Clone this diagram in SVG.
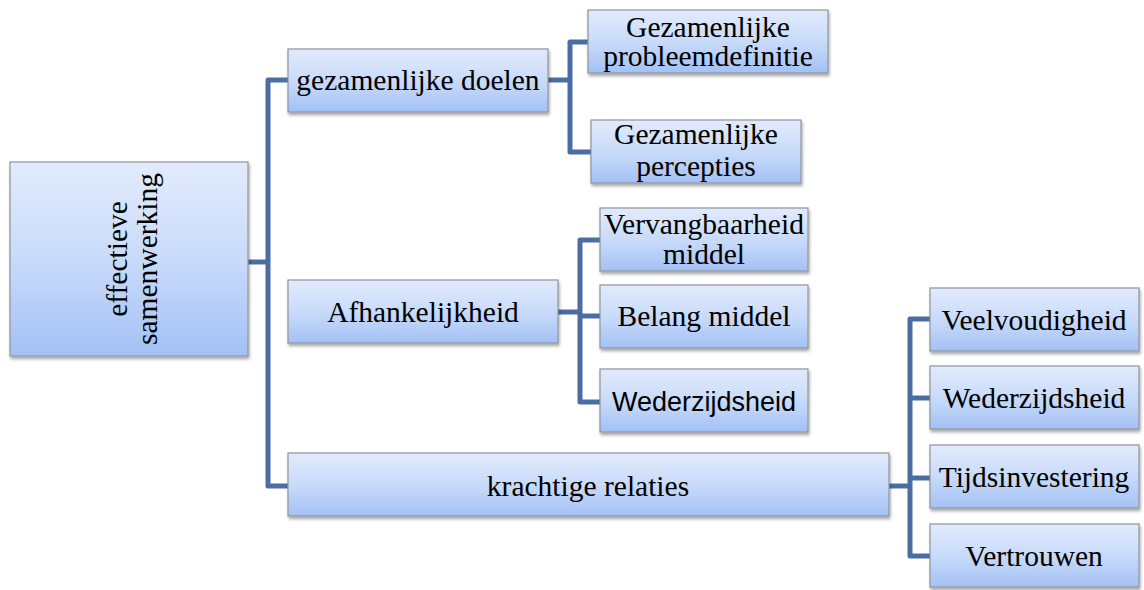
<svg xmlns="http://www.w3.org/2000/svg" width="1144" height="590" viewBox="0 0 1144 590">
<defs>
<linearGradient id="g" x1="0" y1="0" x2="0" y2="1">
<stop offset="0" stop-color="#e2ebfc"/>
<stop offset="0.5" stop-color="#c9dbfa"/>
<stop offset="1" stop-color="#a3c1f5"/>
</linearGradient>
<filter id="sh" x="-10%" y="-10%" width="120%" height="130%">
<feDropShadow dx="1" dy="2.5" stdDeviation="1.5" flood-color="#000" flood-opacity="0.35"/>
</filter>
</defs>
<style>
rect.n{fill:url(#g);stroke:#8f949c;stroke-width:1.2;filter:url(#sh)}
text{font-family:"Liberation Serif","Times New Roman",serif;font-size:29.5px;fill:#000;text-anchor:middle}
text.s{font-family:"Liberation Sans",Arial,sans-serif;font-size:27px}
.c path{fill:none;stroke:#4a6ea3;stroke-width:5;stroke-linejoin:round;stroke-linecap:butt}
</style>
<rect width="1144" height="590" fill="#fff"/>
<g class="c" id="connectors">
<path d="M248 262H268"/>
<path d="M288 80H268V486H288"/>
<path d="M548 80H570"/>
<path d="M588 42H570V152H591"/>
<path d="M558 312H580"/>
<path d="M600 240H580V402H600"/>
<path d="M580 316H600"/>
<path d="M889 486H910"/>
<path d="M930 319H910V556H930"/>
<path d="M910 398H930"/>
<path d="M910 478H930"/>
</g>
<g id="root"><rect class="n" x="10" y="162" width="238" height="194"/>
<text transform="translate(129 259) rotate(-90)"><tspan x="0" y="-2">effectieve</tspan><tspan x="0" y="28">samenwerking</tspan></text></g>
<g id="n1"><rect class="n" x="288" y="49" width="260" height="63"/><text x="418" y="90">gezamenlijke doelen</text></g>
<g id="n2"><rect class="n" x="288" y="280" width="270" height="63"/><text x="423" y="322">Afhankelijkheid</text></g>
<g id="n3"><rect class="n" x="288" y="453" width="601" height="63"/><text x="588" y="496">krachtige relaties</text></g>
<g id="n11"><rect class="n" x="588" y="10" width="240" height="63"/><text x="708" y="37">Gezamenlijke</text><text x="708" y="66">probleemdefinitie</text></g>
<g id="n12"><rect class="n" x="591" y="120" width="210" height="63"/><text x="696" y="144">Gezamenlijke</text><text x="696" y="176">percepties</text></g>
<g id="n21"><rect class="n" x="600" y="208" width="208" height="63"/><text x="704" y="234">Vervangbaarheid</text><text x="704" y="264">middel</text></g>
<g id="n22"><rect class="n" x="600" y="285" width="208" height="63"/><text x="704" y="326">Belang middel</text></g>
<g id="n23"><rect class="n" x="600" y="369" width="208" height="63"/><text class="s" x="704" y="411">Wederzijdsheid</text></g>
<g id="n31"><rect class="n" x="930" y="288" width="209" height="63"/><text x="1034" y="330">Veelvoudigheid</text></g>
<g id="n32"><rect class="n" x="930" y="366" width="209" height="63"/><text x="1034" y="408">Wederzijdsheid</text></g>
<g id="n33"><rect class="n" x="930" y="445" width="209" height="63"/><text x="1034" y="487">Tijdsinvestering</text></g>
<g id="n34"><rect class="n" x="930" y="524" width="209" height="63"/><text x="1034" y="566">Vertrouwen</text></g>
</svg>
